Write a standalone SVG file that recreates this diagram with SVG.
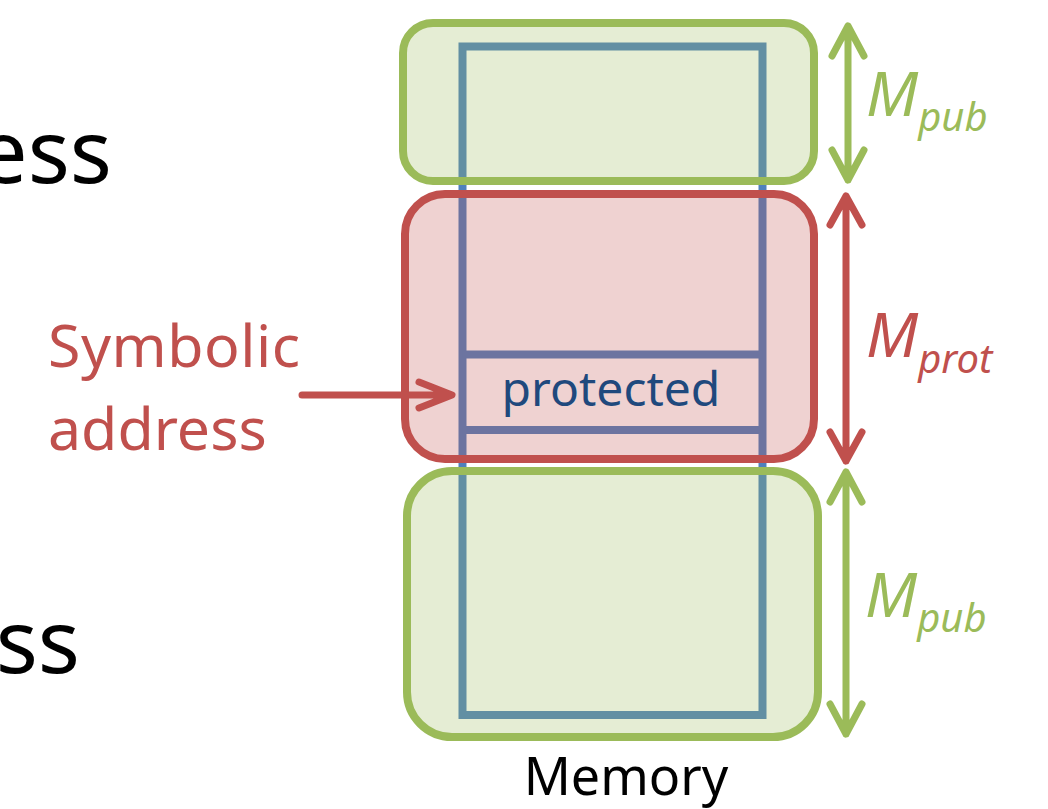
<svg xmlns="http://www.w3.org/2000/svg" width="1048" height="809" viewBox="0 0 1048 809">
<defs>
<style>
.t{font-family:"Noto Sans","Open Sans","Liberation Sans",sans-serif}
.mem{fill:none;stroke:#4F81BD;stroke-width:8}
.g{fill:#9BBB59;fill-opacity:0.26;stroke:#9BBB59;stroke-width:8}
.r{fill:#C0504D;fill-opacity:0.26;stroke:#C0504D;stroke-width:8}
.ga{fill:none;stroke:#9BBB59;stroke-width:7;stroke-linecap:round;stroke-linejoin:round}
.ra{fill:none;stroke:#C0504D;stroke-width:7;stroke-linecap:round;stroke-linejoin:round}
</style>
</defs>
<rect width="1048" height="809" fill="#fff"/>
<g id="left-labels">
<text class="t" x="112" y="183" font-size="88" text-anchor="end" fill="#000">ess</text>
<text class="t" x="80" y="673" font-size="88" text-anchor="end" fill="#000">ss</text>
</g>
<g id="memory">
<rect class="mem" x="462.5" y="46.5" width="300" height="668.5"/>
<line class="mem" x1="462.5" y1="354.5" x2="762.5" y2="354.5"/>
<line class="mem" x1="462.5" y1="430" x2="762.5" y2="430"/>
<text class="t" x="626" y="795" font-size="52" text-anchor="middle" fill="#000">Memory</text>
</g>
<g id="pub-top">
<rect class="g" x="403" y="23" width="411" height="158" rx="30"/>
</g>
<g id="prot">
<rect class="r" x="405" y="194" width="409" height="265" rx="40"/>
</g>
<g id="pub-bottom">
<rect class="g" x="407" y="471" width="411" height="266" rx="45"/>
</g>
<g id="protected">
<text class="t" x="611" y="406" font-size="48" text-anchor="middle" fill="#1F497D">protected</text>
</g>
<g id="symbolic">
<text class="t" font-size="59" fill="#C0504D"><tspan x="48" y="367" textLength="252">Symbolic</tspan><tspan x="48" y="450">address</tspan></text>
</g>
<g id="connectors">
<path class="ra" d="M302 395 H450 M419 382 L452 395 L419 408"/>
<path class="ga" d="M848 26 V180 M832 56 L848 26 L864 56 M832 150 L848 180 L864 150"/>
<path class="ra" d="M846 196 V461 M830 225 L846 196 L862 225 M830 432 L846 461 L862 432"/>
<path class="ga" d="M846 472 V734 M830 502 L846 472 L862 502 M830 704 L846 734 L862 704"/>
</g>
<g id="dimension-labels" font-style="italic">
<text class="t" x="866" y="116" font-size="62" fill="#9BBB59">M<tspan font-size="40" dy="15">pub</tspan></text>
<text class="t" x="866" y="357" font-size="62" fill="#C0504D">M<tspan font-size="40" dy="16">prot</tspan></text>
<text class="t" x="865" y="617" font-size="62" fill="#9BBB59">M<tspan font-size="40" dy="15">pub</tspan></text>
</g>
</svg>
